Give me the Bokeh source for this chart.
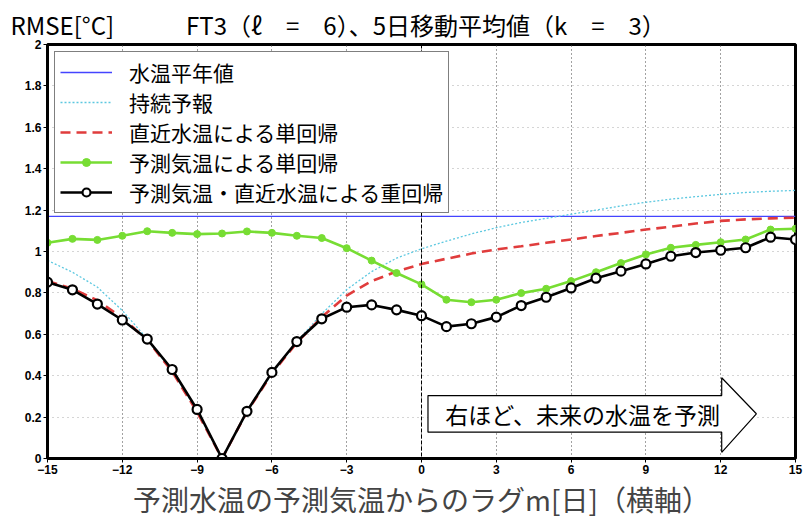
from bokeh.plotting import figure
from bokeh.models import (FixedTicker, CustomJSTickFormatter, Span, Label, Legend,
                          LegendItem, Range1d)
from bokeh.embed import file_html
from bokeh.resources import INLINE

# ---- data ----
lags = list(range(-15, 16))
climatology_rmse = 1.17
persistence = [0.957, 0.900, 0.828, 0.715, 0.578, 0.425, 0.230, 0.0, 0.225, 0.410,
               0.565, 0.699, 0.816, 0.903, 0.968, 1.013, 1.050, 1.085, 1.115, 1.140,
               1.160, 1.180, 1.200, 1.220, 1.238, 1.253, 1.265, 1.276, 1.285, 1.291, 1.295]
recent_water = [0.857, 0.820, 0.764, 0.679, 0.573, 0.420, 0.225, 0.0, 0.225, 0.410,
                0.560, 0.683, 0.787, 0.857, 0.903, 0.940, 0.965, 0.990, 1.010, 1.025,
                1.042, 1.058, 1.075, 1.090, 1.106, 1.120, 1.135, 1.148, 1.155, 1.160, 1.163]
forecast_air = [1.042, 1.061, 1.056, 1.076, 1.098, 1.090, 1.084, 1.087, 1.097, 1.090,
                1.076, 1.065, 1.016, 0.956, 0.896, 0.841, 0.767, 0.755, 0.767, 0.799,
                0.820, 0.857, 0.900, 0.944, 0.986, 1.018, 1.032, 1.045, 1.058, 1.106, 1.110]
multi_reg = [0.852, 0.815, 0.746, 0.669, 0.577, 0.430, 0.237, 0.0, 0.228, 0.416,
             0.565, 0.675, 0.731, 0.742, 0.718, 0.690, 0.637, 0.651, 0.683, 0.739,
             0.779, 0.824, 0.871, 0.905, 0.940, 0.977, 0.995, 1.006, 1.018, 1.069, 1.058]

x_ticks = [-15, -12, -9, -6, -3, 0, 3, 6, 9, 12, 15]
y_ticks = [0, 0.2, 0.4, 0.6, 0.8, 1.0, 1.2, 1.4, 1.6, 1.8, 2.0]

labels = ["水温平年値", "持続予報", "直近水温による単回帰",
          "予測気温による単回帰", "予測気温・直近水温による重回帰"]
title_left = "RMSE[°C]"
title_main = "FT3（ℓ\u2003=\u20036）、5日移動平均値（k\u2003=\u20033）"
x_label = "予測水温の予測気温からのラグm[日]（横軸）"
arrow_text = "右ほど、未来の水温を予測"

# annotation arrow (data space)
arrow_xs = [0.26, 12.04, 12.04, 13.43, 12.04, 12.04, 0.26]
arrow_ys = [0.304, 0.304, 0.39, 0.216, 0.03, 0.127, 0.127]

JP = "Noto Sans CJK JP"

p = figure(frame_width=748, frame_height=414, output_backend="svg", toolbar_location=None,
           x_range=Range1d(-15, 15), y_range=Range1d(0, 2),
           min_border_left=47, min_border_right=8, min_border_top=44, min_border_bottom=66)
p.background_fill_color = "white"
p.border_fill_color = "white"
p.outline_line_color = "black"
p.outline_line_width = 3

# title line
p.title.text = title_left + "\u3000\u3000\u3000" + title_main
p.title.align = "left"
p.title.offset = -37
p.title.text_font = JP
p.title.text_font_size = "24px"
p.title.text_font_style = "normal"
p.title.text_color = "black"
p.title.standoff = 5

# axes
for ax in (p.xaxis[0], p.yaxis[0]):
    ax.axis_line_width = 3
    ax.axis_line_color = "black"
    ax.major_tick_out = 4
    ax.major_tick_in = 0
    ax.major_tick_line_width = 1
    ax.minor_tick_line_color = None
    ax.major_label_text_font = "Liberation Sans"
    ax.major_label_text_font_style = "bold"
    ax.major_label_text_font_size = "12px"
    ax.major_label_text_color = "black"
    ax.major_label_standoff = 2

p.xaxis.ticker = FixedTicker(ticks=x_ticks)
p.yaxis.ticker = FixedTicker(ticks=y_ticks)
p.xaxis.formatter = CustomJSTickFormatter(
    code="var t = Math.round(tick); return t < 0 ? '\u2212' + Math.abs(t) : String(t);")
p.yaxis.formatter = CustomJSTickFormatter(
    code="var s = tick.toFixed(1); return s.endsWith('.0') ? s.slice(0, -2) : s;")

p.xaxis.axis_label = x_label
p.xaxis.axis_label_text_font = JP
p.xaxis.axis_label_text_font_style = "normal"
p.xaxis.axis_label_text_font_size = "28px"
p.xaxis.axis_label_standoff = 2

# grids
p.xgrid.ticker = FixedTicker(ticks=x_ticks)
p.xgrid.grid_line_color = "#444444"
p.xgrid.grid_line_dash = "1 3"
p.xgrid.grid_line_width = 1
p.ygrid.ticker = FixedTicker(ticks=y_ticks)
p.ygrid.grid_line_color = "#aaaaaa"
p.ygrid.grid_line_dash = "1 4"
p.ygrid.grid_line_width = 1

p.add_layout(Span(location=0, dimension="height", line_color="black",
                  line_dash="4 2", line_width=1))

# arrow annotation
p.patch(arrow_xs, arrow_ys, fill_color="white", line_color="black", line_width=1.2)
p.add_layout(Label(x=6.46, y=0.216, text=arrow_text, text_align="center",
                   text_baseline="middle", text_font=JP, text_font_size="23px",
                   text_color="black"))

# series
r_clim = p.line([lags[0], lags[-1]], [climatology_rmse, climatology_rmse],
                line_color="#4444ff", line_width=1.3)
r_pers = p.line(lags, persistence, line_color="#5cc8e0", line_width=1.3, line_dash="2 2")
r_rec = p.line(lags, recent_water, line_color="#e03c3c", line_width=2.6, line_dash="10 6")
r_air_l = p.line(lags, forecast_air, line_color="#77dd33", line_width=2.6)
r_air_m = p.scatter(lags, forecast_air, size=7, fill_color="#77dd33", line_color="#77dd33")
r_mul_l = p.line(lags, multi_reg, line_color="black", line_width=2.6)
r_mul_m = p.scatter(lags, multi_reg, size=9, fill_color="white", line_color="black",
                    line_width=2.2)

legend = Legend(items=[
    LegendItem(label=labels[0], renderers=[r_clim]),
    LegendItem(label=labels[1], renderers=[r_pers]),
    LegendItem(label=labels[2], renderers=[r_rec]),
    LegendItem(label=labels[3], renderers=[r_air_l, r_air_m]),
    LegendItem(label=labels[4], renderers=[r_mul_l, r_mul_m]),
], location="top_left")
legend.margin = 7
legend.padding = 5
legend.spacing = 0
legend.glyph_width = 52
legend.glyph_height = 20
legend.label_height = 20
legend.label_standoff = 17
legend.label_text_font = JP
legend.label_text_font_size = "21px"
legend.label_text_color = "black"
legend.border_line_color = "black"
legend.border_line_width = 1.5
legend.background_fill_color = "white"
legend.background_fill_alpha = 1.0
p.add_layout(legend, "center")

open("out.html", "w").write(file_html(p, INLINE))
